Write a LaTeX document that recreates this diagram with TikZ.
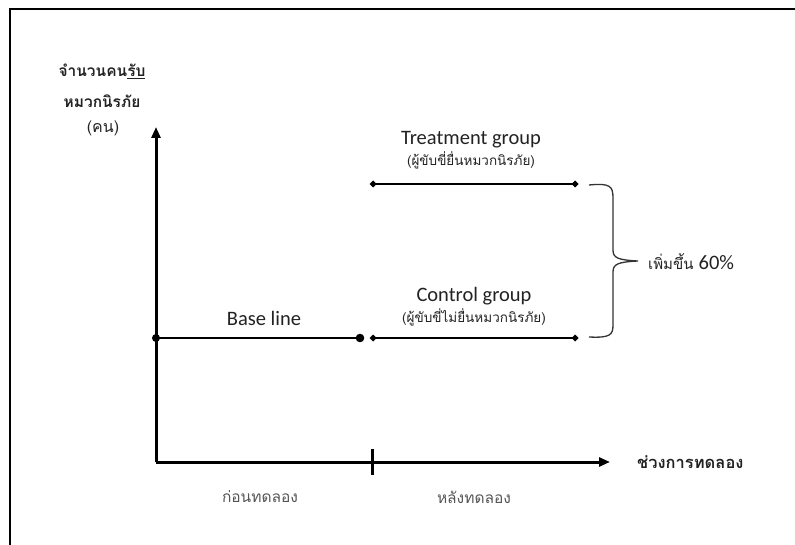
\documentclass[tikz,border=0pt]{standalone}
\usepackage{fontspec}
\setmainfont{Carlito}
\newfontfamily\thai[Script=Thai]{Loma}
\usetikzlibrary{arrows.meta}
\definecolor{txt}{HTML}{222222}
\definecolor{txtgray}{HTML}{555555}
\begin{document}
\begin{tikzpicture}[x=1pt,y=-1pt,
  axis/.style={line width=3pt,-{Triangle[length=11pt,width=9pt]}},
  dataline/.style={line width=1.4pt},
  lbl/.style={text=txt,font=\fontsize{20.5}{23}\selectfont,inner sep=0pt},
  sub/.style={text=txt,font=\thai\fontsize{13.5}{15}\selectfont,inner sep=0pt},
  ylab/.style={text=txt,font=\thai\bfseries\fontsize{15.5}{17}\selectfont,inner sep=0pt},
  xlab/.style={text=txtgray,font=\thai\fontsize{15.5}{17}\selectfont,inner sep=0pt}]
\useasboundingbox (0,0) rectangle (795,545);
% frame
\draw[line width=2pt] (795,9) -- (10,9) -- (10,545);
% axes
\coordinate (O) at (156,462);
\coordinate (ytop) at (156,127);
\coordinate (xend) at (610,462);
\draw[axis] (O) -- (ytop);
\draw[axis] (O) -- (xend);
\coordinate (tickt) at (372,449);
\coordinate (tickb) at (372,475);
\draw[line width=3pt] (tickt) -- (tickb);
% y-axis label
\node[ylab] (y1) at (102,71) {จำนวนคน\underline{รับ}};
\node[ylab] (y2) at (102,101) {หมวกนิรภัย};
\node[ylab,font=\thai\fontsize{16}{18}\selectfont] (y3) at (103,128) {(คน)};
% x-axis labels
\node[ylab,font=\thai\bfseries\fontsize{16.5}{18}\selectfont,anchor=west] (xl) at (637,462) {ช่วงการทดลอง};
\node[xlab] (pre) at (260,497) {ก่อนทดลอง};
\node[xlab] (post) at (474,497) {หลังทดลอง};
% base line
\coordinate (b0) at (156,338);
\coordinate (b1) at (360,338);
\draw[dataline] (b0) -- (b1);
\fill (b0) circle (4pt);
\fill (b1) circle (4.3pt);
\node[lbl] (bl) at (264,318) {Base line};
% control
\coordinate (c0) at (373,338);
\coordinate (c1) at (575,338);
\draw[dataline] (c0) -- (c1);
\foreach \p in {c0,c1} \fill (\p) ++(-3.5,0) -- ++(3.5,-3.5) -- ++(3.5,3.5) -- ++(-3.5,3.5) -- cycle;
\node[lbl] (cg) at (474,296) {Control group};
\node[sub] (cs) at (474,317) {(ผู้ขับขี่ไม่ยื่นหมวกนิรภัย)};
% treatment
\coordinate (t0) at (373,184);
\coordinate (t1) at (575,184);
\draw[dataline] (t0) -- (t1);
\foreach \p in {t0,t1} \fill (\p) ++(-3.5,0) -- ++(3.5,-3.5) -- ++(3.5,3.5) -- ++(-3.5,3.5) -- cycle;
\node[lbl] (tg) at (471,140) {Treatment group};
\node[sub] (ts) at (471,160) {(ผู้ขับขี่ยื่นหมวกนิรภัย)};
% brace
\coordinate (br0) at (589,185);
\coordinate (br1) at (589,337);
\coordinate (tip) at (638,261);
\draw[line width=1.3pt,draw=black!80] (br0) .. controls (610,183) and (613,186) .. (613,198) -- (613,250)
  .. controls (613,258) and (618,260) .. (tip)
  .. controls (618,262) and (613,264) .. (613,272) -- (613,325)
  .. controls (613,335) and (610,338) .. (br1);
\node[anchor=west,text=txt,inner sep=0pt] (inc) at (648,262) {{\thai\fontsize{15}{17}\selectfont เพิ่มขึ้น}\hspace{5pt}{\fontsize{20.5}{23}\selectfont 60\%}};
\end{tikzpicture}
\end{document}
